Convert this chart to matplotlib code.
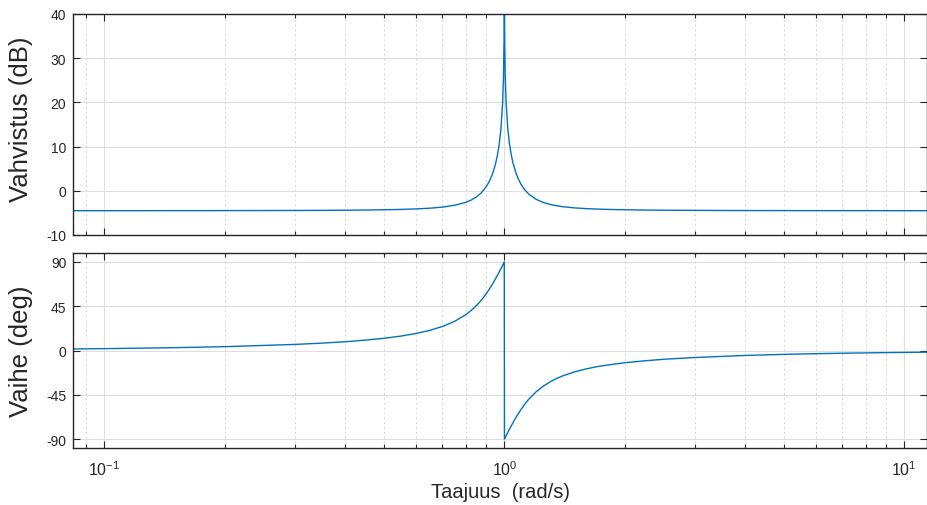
import matplotlib
matplotlib.use("Agg")
import matplotlib.pyplot as plt
from matplotlib.ticker import LogLocator, FixedLocator, NullFormatter, FixedFormatter

plt.rcParams['font.family'] = ['Liberation Sans', 'DejaVu Sans']
plt.rcParams['mathtext.fontset'] = 'custom'
plt.rcParams['mathtext.rm'] = 'Liberation Sans'
plt.rcParams['mathtext.it'] = 'Liberation Sans:italic'
plt.rcParams['axes.unicode_minus'] = False

# frequency response samples (rad/s, dB, deg)
freq = [0.0836, 0.1, 0.15, 0.2, 0.3, 0.35, 0.4, 0.45, 0.5, 0.55, 0.6, 0.65, 0.7, 0.75,
        0.8, 0.825, 0.85, 0.875, 0.9, 0.915, 0.93, 0.94, 0.95, 0.96, 0.97, 0.98,
        0.99, 0.995, 0.998, 0.999, 0.9995, 1.0005, 1.001, 1.002, 1.005, 1.01,
        1.02, 1.03, 1.04, 1.05, 1.07, 1.085, 1.1, 1.125, 1.15, 1.2, 1.25, 1.3,
        1.35, 1.4, 1.5, 1.6, 1.7, 1.8, 2, 2.25, 2.5, 3, 4, 5, 6, 8, 10, 11.4]
mag_db = [-4.50, -4.50, -4.49, -4.48, -4.45, -4.43, -4.39, -4.35, -4.29, -4.22, -4.10, -3.94, -3.69, -3.29,
          -2.63, -2.13, -1.44, -0.49, 0.87, 1.98, 3.40, 4.59, 6.05, 7.89, 10.32, 13.81,
          19.82, 25.85, 33.82, 39.85, 45.87, 45.88, 39.85, 33.84, 25.89, 19.91,
          13.98, 10.57, 8.22, 6.44, 3.91, 2.56, 1.51, 0.20, -0.73, -1.92, -2.63, -3.08,
          -3.38, -3.60, -3.87, -4.03, -4.13, -4.21, -4.29, -4.36, -4.39, -4.43, -4.47, -4.48, -4.49, -4.49, -4.50, -4.50]
phase_deg = [1.6, 1.9, 2.9, 3.9, 6.2, 7.5, 8.9, 10.6, 12.4, 14.6, 17.2, 20.4, 24.4, 29.5,
             36.3, 40.5, 45.3, 50.9, 57.4, 61.7, 66.2, 69.4, 72.7, 76.1, 79.5, 83.0,
             86.5, 88.3, 89.3, 89.7, 89.8, -89.8, -89.7, -89.3, -88.3, -86.6,
             -83.2, -79.8, -76.6, -73.5, -67.7, -63.7, -60.0, -54.4, -49.6, -42.0, -36.3, -31.9,
             -28.4, -25.7, -21.6, -18.7, -16.5, -14.9, -12.4, -10.4, -8.9, -7.1, -5.0, -3.9, -3.2, -2.4, -1.9, -1.7]

mag_ticks = [-10, 0, 10, 20, 30, 40]
phase_ticks = [-90, -45, 0, 45, 90]
freq_ticks = [0.1, 1, 10]
freq_labels = [r'$\mathregular{10^{-1}}$', r'$\mathregular{10^{0}}$', r'$\mathregular{10^{1}}$']

line_color = '#0072BD'
dark = '#262626'

fig = plt.figure(figsize=(9.28, 5.06), dpi=100)
ax_mag = fig.add_axes([0.079, 0.5336, 0.920, 0.4368])
ax_ph = fig.add_axes([0.079, 0.1126, 0.920, 0.3854])


def style_axes(ax, yticks, ylim):
    ax.set_xscale('log')
    ax.set_xlim(0.0836, 11.4)
    ax.set_ylim(*ylim)
    ax.set_yticks(yticks)
    ax.xaxis.set_major_locator(FixedLocator(freq_ticks))
    ax.xaxis.set_minor_locator(LogLocator(base=10, subs=range(2, 10), numticks=20))
    ax.xaxis.set_minor_formatter(NullFormatter())
    ax.grid(True, which='major', color='#dedede', linewidth=0.8, linestyle='-')
    ax.grid(True, which='minor', axis='x', color='#d6d6d6', linewidth=0.7,
            linestyle=(0, (2, 3)))
    ax.set_axisbelow(True)
    ax.tick_params(which='both', direction='in', top=True, right=True,
                   colors=dark, labelsize=10, width=0.8)
    ax.tick_params(which='major', length=5)
    ax.tick_params(which='minor', length=3)
    ax.tick_params(axis='y', pad=5)
    for s in ax.spines.values():
        s.set_color(dark)
        s.set_linewidth(1.0)


style_axes(ax_mag, mag_ticks, (-10, 40))
style_axes(ax_ph, phase_ticks, (-99, 99))

ax_mag.plot(freq, mag_db, color=line_color, linewidth=1.0)
ax_ph.plot(freq, phase_deg, color=line_color, linewidth=1.0)

ax_mag.xaxis.set_major_formatter(NullFormatter())
ax_ph.xaxis.set_major_formatter(FixedFormatter(freq_labels))
ax_ph.tick_params(axis='x', pad=8, labelsize=11.5)

ax_mag.set_ylabel('Vahvistus (dB)', fontsize=18.5, color=dark)
ax_ph.set_ylabel('Vaihe (deg)', fontsize=18.5, color=dark)
ax_mag.yaxis.set_label_coords(-0.047, 0.53)
ax_ph.yaxis.set_label_coords(-0.047, 0.5)
ax_ph.set_xlabel('Taajuus  (rad/s)', fontsize=14.5, color=dark, labelpad=3)

fig.savefig('out.png', dpi=100)
